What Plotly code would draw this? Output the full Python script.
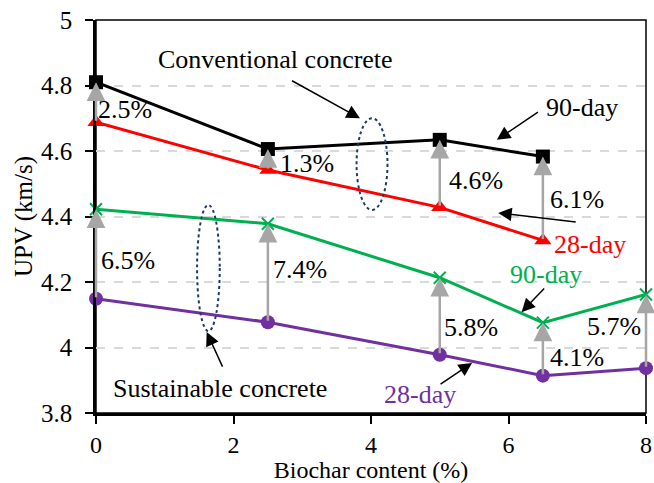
import plotly.graph_objects as go

# ---- data ----
biochar_conv = [0, 2.5, 5, 6.5]
conv_90 = [4.81, 4.606, 4.634, 4.583]
conv_28 = [4.688, 4.542, 4.428, 4.327]

biochar_sus = [0, 2.5, 5, 6.5, 8]
sus_90 = [4.422, 4.378, 4.213, 4.076, 4.162]
sus_28 = [4.149, 4.077, 3.978, 3.914, 3.937]

conv_gain_labels = ["2.5%", "1.3%", "4.6%", "6.1%"]
conv_gain_pos = [(0.42, 4.727), (3.07, 4.563), (5.52, 4.511), (7.0, 4.453)]
sus_gain_labels = ["6.5%", "7.4%", "5.8%", "4.1%", "5.7%"]
sus_gain_pos = [(0.47, 4.267), (2.97, 4.237), (5.45, 4.06), (7.0, 3.971), (7.53, 4.063)]

x_ticks = [0, 2, 4, 6, 8]
y_ticks = [3.8, 4, 4.2, 4.4, 4.6, 4.8, 5]
y_tick_text = ["3.8", "4", "4.2", "4.4", "4.6", "4.8", "5"]

FONT = "Liberation Serif, Times New Roman, serif"
FS = 26
FS_AX = 25
FS_X = 24
GRAY = "#A6A6A6"

fig = go.Figure()

fig.add_trace(go.Scatter(x=biochar_conv, y=conv_90, mode="lines+markers",
                         line=dict(color="black", width=3),
                         marker=dict(symbol="square", size=14, color="black"),
                         cliponaxis=False, showlegend=False))
fig.add_trace(go.Scatter(x=biochar_conv, y=conv_28, mode="lines+markers",
                         line=dict(color="#FF0000", width=3),
                         marker=dict(symbol="triangle-up", size=15, color="#FF0000"),
                         cliponaxis=False, showlegend=False))
fig.add_trace(go.Scatter(x=biochar_sus, y=sus_90, mode="lines+markers",
                         line=dict(color="#00B050", width=3),
                         marker=dict(symbol="x-thin", size=12, color="#00B050",
                                     line=dict(color="#00B050", width=2)),
                         cliponaxis=False, showlegend=False))
fig.add_trace(go.Scatter(x=biochar_sus, y=sus_28, mode="lines+markers",
                         line=dict(color="#7030A0", width=3),
                         marker=dict(symbol="circle", size=14, color="#7030A0"),
                         cliponaxis=False, showlegend=False))

annotations = []
# gray gain arrows (28-day -> 90-day)
for xs, lo, hi in ((biochar_conv, conv_28, conv_90), (biochar_sus, sus_28, sus_90)):
    for xi, a, b in zip(xs, lo, hi):
        annotations.append(dict(x=xi, y=b, ax=xi, ay=a, xref="x", yref="y",
                                axref="x", ayref="y", text="", showarrow=True,
                                arrowhead=2, arrowsize=1.5, arrowwidth=2.5,
                                arrowcolor=GRAY, standoff=0, startstandoff=0))
# gain labels
for lab, (px, py) in list(zip(conv_gain_labels, conv_gain_pos)) + list(zip(sus_gain_labels, sus_gain_pos)):
    annotations.append(dict(x=px, y=py, xref="x", yref="y", text=lab, showarrow=False,
                            font=dict(family=FONT, size=FS, color="black")))

# text labels
labels = [
    ("Conventional concrete", 2.61, 4.878, "black"),
    ("90-day", 7.07, 4.734, "black"),
    ("28-day", 7.18, 4.313, "#FF0000"),
    ("90-day", 6.54, 4.224, "#00B050"),
    ("28-day", 4.71, 3.855, "#7030A0"),
    ("Sustainable concrete", 1.80, 3.876, "black"),
]
for t, px, py, c in labels:
    annotations.append(dict(x=px, y=py, xref="x", yref="y", text=t, showarrow=False,
                            font=dict(family=FONT, size=FS, color=c)))

# black pointer arrows: (tail x, tail y, head x, head y)
pointers = [
    (2.83, 4.817, 3.84, 4.70),
    (6.45, 4.722, 5.83, 4.634),
    (7.0, 4.383, 5.85, 4.411),
    (6.54, 4.185, 6.19, 4.108),
    (4.99, 3.885, 5.47, 3.953),
    (1.85, 3.937, 1.61, 4.047),
]
for tx, ty, hx, hy in pointers:
    annotations.append(dict(x=hx, y=hy, ax=tx, ay=ty, xref="x", yref="y",
                            axref="x", ayref="y", text="", showarrow=True,
                            arrowhead=2, arrowsize=1.8, arrowwidth=1.5,
                            arrowcolor="black", standoff=0))

shapes = [
    dict(type="circle", xref="x", yref="y", x0=3.79, x1=4.24, y0=4.42, y1=4.70,
         line=dict(color="#1F3864", width=2, dash="dot")),
    dict(type="circle", xref="x", yref="y", x0=1.47, x1=1.80, y0=4.05, y1=4.435,
         line=dict(color="#1F3864", width=2, dash="dot")),
    dict(type="rect", xref="paper", yref="paper", x0=0, x1=1, y0=0, y1=1,
         line=dict(color="black", width=1.5), layer="below"),
]

fig.update_layout(
    width=654, height=483,
    margin=dict(l=96, r=2, t=20, b=70),
    paper_bgcolor="white", plot_bgcolor="white",
    font=dict(family=FONT, size=FS_AX, color="black"),
    annotations=annotations, shapes=shapes,
    xaxis=dict(range=[0, 8], tickvals=x_ticks, ticks="outside", ticklen=8,
               tickwidth=1.5, tickcolor="black", showline=True, linecolor="black",
               linewidth=2.5, showgrid=False, zeroline=False,
               ticklabelstandoff=0, ticklabeloverflow="allow",
               tickfont=dict(family=FONT, size=FS_X),
               title=dict(text="Biochar content (%)", standoff=2,
                          font=dict(family=FONT, size=FS_X))),
    yaxis=dict(range=[3.8, 5], tickvals=y_ticks, ticktext=y_tick_text,
               ticks="outside", ticklen=8, tickwidth=1.5, tickcolor="black",
               showline=True, linecolor="black", linewidth=2.5,
               showgrid=True, gridcolor="#D9D9D9", griddash="dash", gridwidth=1.5,
               zeroline=False, ticklabelstandoff=8,
               tickfont=dict(family=FONT, size=FS_AX),
               title=dict(text="UPV (km/s)", standoff=2,
                          font=dict(family=FONT, size=FS_AX))),
)

fig.write_html("out.html")
